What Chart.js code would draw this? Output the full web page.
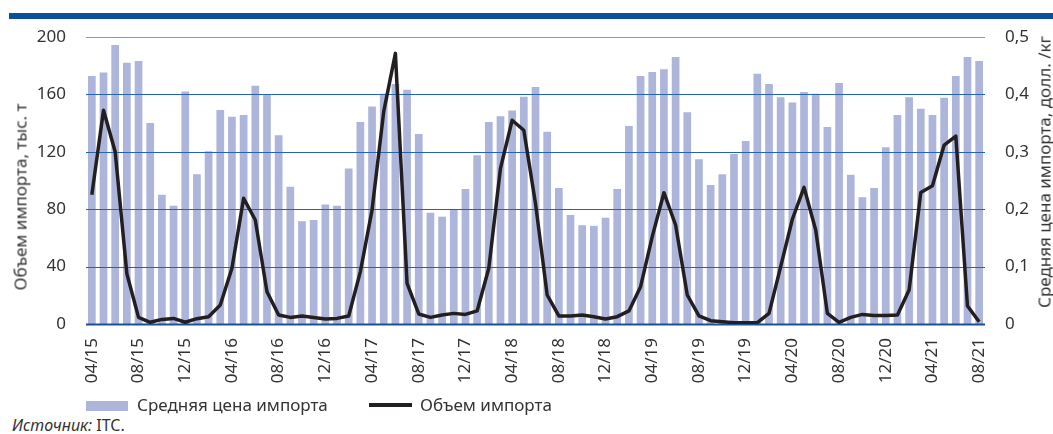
<!DOCTYPE html>
<html>
<head>
<meta charset="utf-8">
<script src="https://cdn.jsdelivr.net/npm/chart.js@4/dist/chart.umd.min.js"></script>
<style>
  body { margin: 0; background: #fff; font-family: "Noto Sans", sans-serif; color: #333; }
  #wrap { position: relative; width: 1053px; height: 434px; overflow: hidden; }
  #band { position: absolute; left: 9px; right: 0; top: 13px; height: 6px; background: #0b4fa0; }
  canvas { position: absolute; left: 0; top: 0; }
  .ttl { position: absolute; font-size: 17px; white-space: nowrap; transform: translate(-50%, -50%) rotate(-90deg); }
  .lg { position: absolute; font-size: 17px; line-height: 20px; white-space: nowrap; }
  .sw { position: absolute; }
  #src { position: absolute; left: 12px; top: 415px; font-size: 16px; line-height: 20px; }
</style>
</head>
<body>
<div id="wrap">
  <div id="band"></div>
  <canvas id="c" width="1053" height="395"></canvas>
  <div class="ttl" style="left:20px;top:197px;">Объем импорта, тыс. т</div>
  <div class="ttl" style="left:1044px;top:172px;">Средняя цена импорта, долл. /кг</div>
  <div class="sw" style="left:86px;top:401px;width:42px;height:10px;background:#adb5da;"></div>
  <div class="lg" style="left:137px;top:395px;">Средняя цена импорта</div>
  <div class="sw" style="left:369px;top:403px;width:43px;height:4px;background:#231f20;"></div>
  <div class="lg" style="left:420px;top:395px;">Объем импорта</div>
  <div id="src"><i>Источник:</i> ITC.</div>
</div>
<script>
// месяцы 04/15 – 08/21
const months = [
  '04/15','05/15','06/15','07/15','08/15','09/15','10/15','11/15','12/15',
  '01/16','02/16','03/16','04/16','05/16','06/16','07/16','08/16','09/16','10/16','11/16','12/16',
  '01/17','02/17','03/17','04/17','05/17','06/17','07/17','08/17','09/17','10/17','11/17','12/17',
  '01/18','02/18','03/18','04/18','05/18','06/18','07/18','08/18','09/18','10/18','11/18','12/18',
  '01/19','02/19','03/19','04/19','05/19','06/19','07/19','08/19','09/19','10/19','11/19','12/19',
  '01/20','02/20','03/20','04/20','05/20','06/20','07/20','08/20','09/20','10/20','11/20','12/20',
  '01/21','02/21','03/21','04/21','05/21','06/21','07/21','08/21'
];

// средняя цена импорта, долл./кг (правая ось)
const price = [
  0.432,0.438,0.486,0.455,0.458,0.350,0.225,0.206,0.405,0.261,
  0.301,0.373,0.361,0.364,0.415,0.400,0.329,0.239,0.179,0.181,
  0.208,0.206,0.271,0.352,0.379,0.401,0.418,0.408,0.331,0.194,
  0.187,0.200,0.235,0.294,0.352,0.362,0.372,0.396,0.413,0.335,
  0.237,0.190,0.172,0.171,0.185,0.235,0.345,0.432,0.439,0.444,
  0.465,0.369,0.287,0.242,0.261,0.296,0.319,0.436,0.418,0.395,
  0.386,0.404,0.401,0.343,0.420,0.260,0.221,0.237,0.308,0.364,
  0.395,0.375,0.364,0.394,0.432,0.465,0.458
];

// объем импорта, тыс. т (левая ось)
const volume = [
  90,149,120,35,4.6,1.2,3.2,3.9,1.2,3.7,
  5.1,13.2,38.8,87.6,72.5,22.5,6.3,4.6,5.6,4.6,
  3.5,3.9,5.6,36.5,79.4,148,188.6,28.3,7,4.6,
  6.3,7.4,6.7,9.1,38.8,108.5,142,135,84,20.2,
  5.6,5.6,6.3,5.1,3.5,5.1,9.1,26,60.9,91.5,
  69,20.2,5.6,2.3,1.6,0.9,0.9,0.9,7.4,40,
  73,95.2,65.5,7.4,1.2,4.6,6.7,6,6,6.3,
  23.7,91.7,96.4,124.7,131,12.5,1.6
];

const volTicks = [0, 40, 80, 120, 160, 200];
const priceTicks = [0, 0.1, 0.2, 0.3, 0.4, 0.5];

const tickFont = { family: '"Noto Sans", sans-serif', size: 17 };

// сетка поверх столбцов, но под линией
const gridOver = {
  id: 'gridOver',
  afterDatasetDraw(chart, args) {
    if (args.index !== 0) return;
    const { ctx, chartArea: a } = chart;
    const y = chart.scales.y;
    ctx.save();
    volTicks.forEach(v => {
      const py = Math.round(y.getPixelForValue(v)) + 0.5;
      ctx.beginPath();
      if (v === 0) { ctx.strokeStyle = '#1b4f9c'; ctx.lineWidth = 2; }
      else if (v === 200) { ctx.strokeStyle = '#6f9bd5'; ctx.lineWidth = 1.2; }
      else { ctx.strokeStyle = '#2463b4'; ctx.lineWidth = 1.2; }
      ctx.moveTo(a.left, py);
      ctx.lineTo(a.right, py);
      ctx.stroke();
    });
    ctx.restore();
  }
};

new Chart(document.getElementById('c'), {
  data: {
    labels: months,
    datasets: [
      { type: 'bar', label: 'Средняя цена импорта', data: price, yAxisID: 'y1',
        backgroundColor: '#adb5da', barPercentage: 0.66, categoryPercentage: 1, order: 2 },
      { type: 'line', label: 'Объем импорта', data: volume, yAxisID: 'y',
        borderColor: '#231f20', borderWidth: 3.5, pointRadius: 0, tension: 0,
        borderJoinStyle: 'round', order: 1 },
    ],
  },
  options: {
    responsive: false, animation: false,
    layout: { padding: { top: 37, left: 0, right: 0, bottom: 0 } },
    plugins: { legend: { display: false }, tooltip: { enabled: false } },
    scales: {
      x: {
        offset: true,
        grid: { display: false },
        border: { display: false },
        ticks: {
          autoSkip: false, maxRotation: 90, minRotation: 90, padding: 6,
          color: '#333', font: tickFont,
          callback: (v, i) => i % 4 === 0 ? months[i] : '',
        },
        afterFit: s => { s.height = 71; },
      },
      y: {
        position: 'left', min: 0, max: 200,
        grid: { display: false },
        border: { display: false },
        afterBuildTicks: s => { s.ticks = volTicks.map(v => ({ value: v })); },
        ticks: { color: '#333', font: tickFont, padding: 12 },
        afterFit: s => { s.width = 86; },
      },
      y1: {
        position: 'right', min: 0, max: 0.5,
        grid: { display: false },
        border: { display: false },
        afterBuildTicks: s => { s.ticks = priceTicks.map(v => ({ value: v })); },
        ticks: {
          color: '#333', font: tickFont, padding: 12,
          callback: v => v === 0 ? '0' : v.toFixed(1).replace('.', ','),
        },
        afterFit: s => { s.width = 68; },
      },
    },
  },
  plugins: [gridOver],
});
</script>
</body>
</html>
